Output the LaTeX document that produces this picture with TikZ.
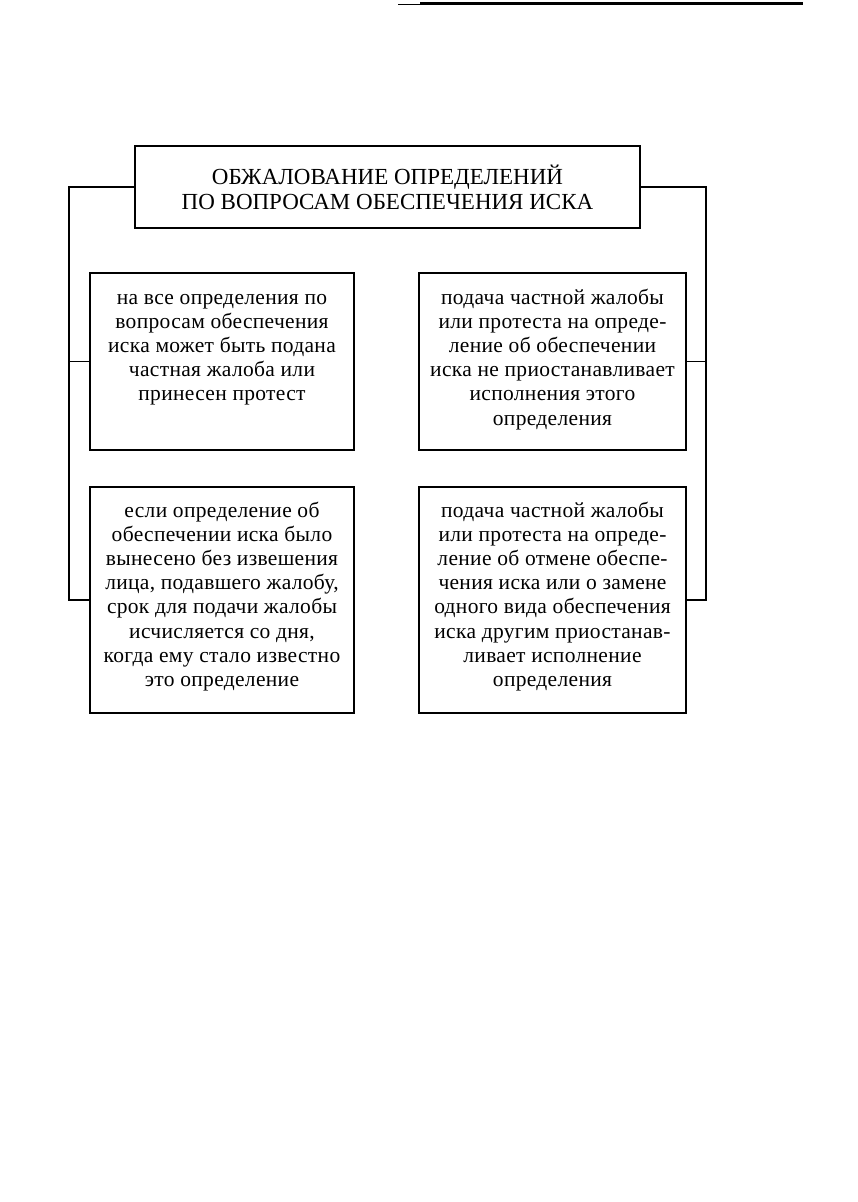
\documentclass[tikz,border=0pt]{standalone}
\usepackage{fontspec}
\setmainfont{Liberation Serif}
\newfontfamily\bodyfont[LetterSpace=1.5]{Liberation Serif}
\usepackage{tikz}
\usetikzlibrary{positioning, calc}

\begin{document}
\begin{tikzpicture}[
  x=1pt, y=-1pt,
  frame/.style={draw, line width=2pt, inner sep=0pt},
  txt/.style={font=\bodyfont\fontsize{21.5}{24.2}\selectfont, align=center,
    inner sep=0pt},
  link/.style={line width=1.7pt},
]
  \useasboundingbox (0,0) rectangle (858,1202);
  \draw[line width=1pt] (398,4) -- (420,4);
  \draw[line width=3pt] (420,3) -- (803,3);

  \node[frame, minimum width=505pt, minimum height=82pt,
        font=\fontsize{23}{25}\selectfont, align=center] (title) at (387.5,187)
    {ОБЖАЛОВАНИЕ ОПРЕДЕЛЕНИЙ\\ПО ВОПРОСАМ ОБЕСПЕЧЕНИЯ ИСКА};

  \node[frame, minimum width=264pt, minimum height=177pt] (appeal) at (222,361.5) {};
  \node[frame, minimum width=267pt, minimum height=177pt] (nostay) at (552.5,361.5) {};
  \node[frame, minimum width=264pt, minimum height=226pt] (term) at (222,600) {};
  \node[frame, minimum width=267pt, minimum height=226pt] (stay) at (552.5,600) {};

  \node[txt, below=15pt of appeal.north] (appealtext)
    {\strut на все определения по\\ вопросам обеспечения\\ иска может быть подана\\
     частная жалоба или\\ принесен протест};
  \node[txt, below=15pt of nostay.north] (nostaytext)
    {\strut подача частной жалобы\\ или протеста на опреде-\\ ление об обеспечении\\
     иска не приостанавливает\\ исполнения этого\\ определения};
  \node[txt, below=14pt of term.north] (termtext)
    {\strut если определение об\\ обеспечении иска было\\ вынесено без извешения\\
     лица, подавшего жалобу,\\ срок для подачи жалобы\\ исчисляется со дня,\\
     когда ему стало известно\\ это определение};
  \node[txt, below=14pt of stay.north] (staytext)
    {\strut подача частной жалобы\\ или протеста на опреде-\\ ление об отмене обеспе-\\
     чения иска или о замене\\ одного вида обеспечения\\ иска другим приостанав-\\
     ливает исполнение\\ определения};

  \draw[link] (title.west) -- ++(-65,0) |- (term.west);
  \draw[link] (appeal.west) -- ++(-20,0);
  \draw[link] (title.east) -- ++(65,0) |- (stay.east);
  \draw[link] (nostay.east) -- ++(19,0);
\end{tikzpicture}
\end{document}
